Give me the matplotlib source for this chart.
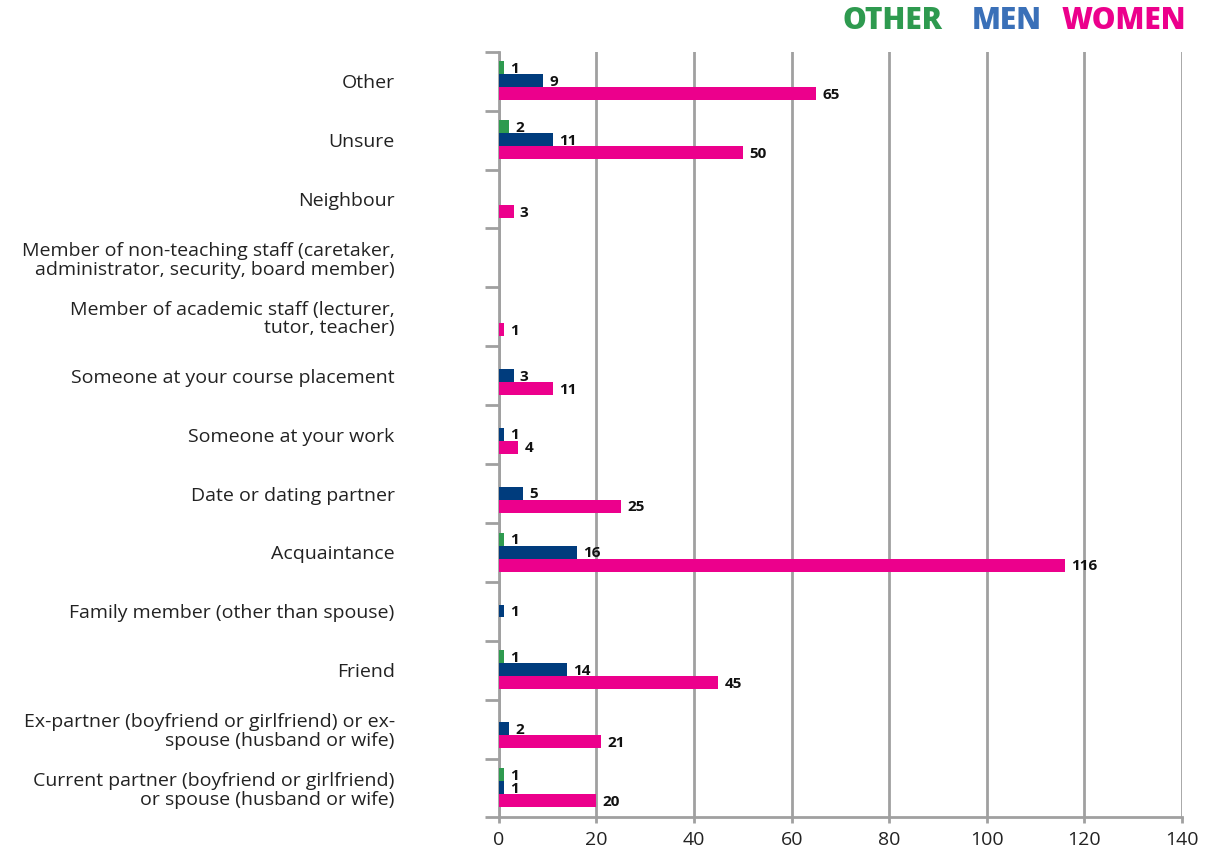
import numpy as np
import matplotlib.pyplot as plt

plt.rcParams['font.family'] = ['Open Sans', 'DejaVu Sans']

# categories, top to bottom
categories = [
    "Other",
    "Unsure",
    "Neighbour",
    "Member of non-teaching staff (caretaker,\nadministrator, security, board member)",
    "Member of academic staff (lecturer,\ntutor, teacher)",
    "Someone at your course placement",
    "Someone at your work",
    "Date or dating partner",
    "Acquaintance",
    "Family member (other than spouse)",
    "Friend",
    "Ex-partner (boyfriend or girlfriend) or ex-\nspouse (husband or wife)",
    "Current partner (boyfriend or girlfriend)\nor spouse (husband or wife)",
]
# None = no bar
other = [1, 2, None, None, None, None, None, None, 1, None, 1, None, 1]
men = [9, 11, None, None, None, 3, 1, 5, 16, 1, 14, 2, 1]
women = [65, 50, 3, None, 1, 11, 4, 25, 116, None, 45, 21, 20]

c_other = '#2E9A4F'
c_men = '#003C7D'
c_women = '#EC008C'
grey = '#A0A0A0'

fig = plt.figure(figsize=(12.05, 8.48), dpi=100)
ax = fig.add_axes([0.414, 0.036, 0.567, 0.903])

y = np.arange(len(categories))
h = 0.22
series = [(other, -0.225, c_other), (men, -0.005, c_men), (women, 0.215, c_women)]
for vals, off, col in series:
    for i, v in enumerate(vals):
        if v is None:
            continue
        ax.barh(y[i] + off, v, height=h, color=col, zorder=3)
        ax.text(v + 1.3, y[i] + off + 0.02, str(v), va='center', ha='left',
                fontsize=11, fontweight='bold', color='#111111')

ax.set_xlim(0, 140)
ax.set_ylim(len(categories) - 0.5, -0.5)
ax.set_xticks(np.arange(0, 141, 20))
ax.tick_params(axis='x', length=4, width=2, color=grey, labelsize=14,
               labelcolor='#222222', pad=6)
ax.xaxis.grid(True, color=grey, linewidth=2, zorder=0)

# category ticks at the boundaries, labels at the centres
ax.set_yticks(np.arange(len(categories) + 1) - 0.5)
ax.set_yticklabels([])
ax.set_yticks(y, minor=True)
ax.set_yticklabels(categories, minor=True, fontsize=14, color='#222222')
ax.tick_params(axis='y', which='major', length=10, width=2, color=grey)
ax.tick_params(axis='y', which='minor', length=0, pad=75)
for lab in ax.get_yticklabels(minor=True):
    lab.set_horizontalalignment('right')
    lab.set_multialignment('right')
    lab.set_linespacing(1.05)

for s in ['top', 'right']:
    ax.spines[s].set_visible(False)
for s in ['left', 'bottom']:
    ax.spines[s].set_color(grey)
    ax.spines[s].set_linewidth(2)

fig.text(843 / 1205, 0.975, 'OTHER', color=c_other, fontsize=21.5, fontweight='heavy',
         ha='left', va='center')
fig.text(972 / 1205, 0.975, 'MEN', color='#3A70B8', fontsize=21.5, fontweight='heavy',
         ha='left', va='center')
fig.text(1062 / 1205, 0.975, 'WOMEN', color=c_women, fontsize=21.5, fontweight='heavy',
         ha='left', va='center')

fig.savefig('out.png', dpi=100)
